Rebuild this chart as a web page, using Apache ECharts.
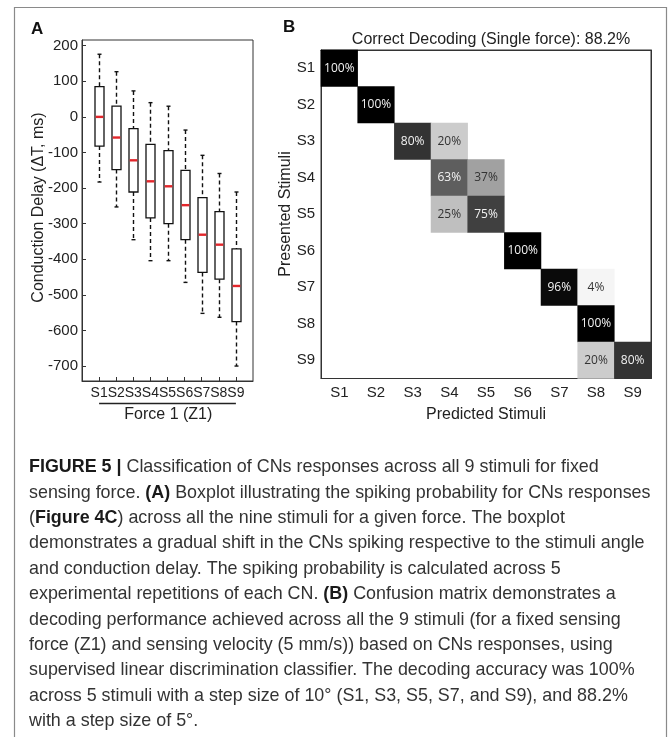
<!DOCTYPE html>
<html><head><meta charset="utf-8">
<script src="https://cdn.jsdelivr.net/npm/echarts@6/dist/echarts.min.js"></script>
<style>html,body{margin:0;padding:0;background:#fff}#c{width:669px;height:737px}</style>
</head><body><div id="c"></div>
<script>
// ---------- Panel A: boxplot data ----------
const stimuli = ['S1','S2','S3','S4','S5','S6','S7','S8','S9'];
const whiskerLow  = [-183,-253,-345,-404,-404,-465,-552,-563,-700];
const quartile1   = [-82,-148,-211,-284,-300,-345,-437,-456,-575];
const medians     = [0,-58,-122,-181,-195,-248,-331,-359,-475];
const quartile3   = [85,30,-33,-77,-95,-150,-227,-266,-371];
const whiskerHigh = [176,127,73,40,30,-37,-108,-159,-211];
const yTicksA     = [200,100,0,-100,-200,-300,-400,-500,-600,-700];

// ---------- Panel B: confusion matrix (rows = presented, cols = predicted) ----------
const presented = stimuli;
const predicted = stimuli;
const confusion = [
  [100,0,0,0,0,0,0,0,0],
  [0,100,0,0,0,0,0,0,0],
  [0,0,80,20,0,0,0,0,0],
  [0,0,0,63,37,0,0,0,0],
  [0,0,0,25,75,0,0,0,0],
  [0,0,0,0,0,100,0,0,0],
  [0,0,0,0,0,0,96,4,0],
  [0,0,0,0,0,0,0,100,0],
  [0,0,0,0,0,0,0,20,80]
];
const accuracy = 88.2;

// ---------- Caption ----------
const captionLines = [
  '{b|FIGURE 5 |} Classification of CNs responses across all 9 stimuli for fixed',
  'sensing force. {b|(A)} Boxplot illustrating the spiking probability for CNs responses',
  '({b|Figure 4C}) across all the nine stimuli for a given force. The boxplot',
  'demonstrates a gradual shift in the CNs spiking respective to the stimuli angle',
  'and conduction delay. The spiking probability is calculated across 5',
  'experimental repetitions of each CN. {b|(B)} Confusion matrix demonstrates a',
  'decoding performance achieved across all the 9 stimuli (for a fixed sensing',
  'force (Z1) and sensing velocity (5 mm/s)) based on CNs responses, using',
  'supervised linear discrimination classifier. The decoding accuracy was 100%',
  'across 5 stimuli with a step size of 10° (S1, S3, S5, S7, and S9), and 88.2%',
  'with a step size of 5°.'
];

const FONT = 'Liberation Sans, Arial, Helvetica, sans-serif';
const INK = '#222';
const CAP = 17.9;

const padCats = [' ', ...stimuli, '  '];
const boxRows = stimuli.map((s, i) => [s, whiskerLow[i], quartile1[i], medians[i], quartile3[i], whiskerHigh[i]]);

const heatData = [];
confusion.forEach((row, r) => row.forEach((v, c) => {
  if (v > 0) heatData.push({
    value: [predicted[c], presented[r], v],
    label: { color: v > 50 ? '#f2f2f2' : '#333' }
  });
}));

const chart = echarts.init(document.getElementById('c'), null, { renderer: 'canvas' });

const captionGraphics = captionLines.map((t, i) => ({
  type: 'text', left: 29, top: 468.3 + 25.4 * i - 10,
  style: {
    text: t, fill: '#333', font: CAP + 'px ' + FONT,
    rich: { b: { fontWeight: 'bold', fontSize: CAP, fontFamily: FONT, fill: '#1a1a1a', color: '#1a1a1a' } }
  }
}));

const option = {
  animation: false,
  backgroundColor: '#fff',
  textStyle: { fontFamily: FONT },
  title: [{
    text: 'Correct Decoding (Single force): ' + accuracy + '%',
    left: 486, top: 27, textAlign: 'center',
    textStyle: { fontSize: 16, fontWeight: 'normal', color: INK, fontFamily: FONT }
  }],
  grid: [
    { left: 82, top: 40, width: 171, height: 341, show: true, borderColor: '#333', borderWidth: 1, backgroundColor: 'transparent' },
    { left: 321, top: 50, width: 330, height: 328.5, show: true, borderColor: '#333', borderWidth: 1, backgroundColor: 'transparent' }
  ],
  xAxis: [
    { type: 'category', gridIndex: 0, data: padCats, boundaryGap: false,
      axisLine: { onZero: false, lineStyle: { color: '#333' } },
      axisTick: { inside: true, length: 4, interval: (i, v) => v.trim() !== '', lineStyle: { color: '#333' } },
      axisLabel: { interval: 0, margin: 5, fontSize: 14, color: INK, fontFamily: FONT },
      splitLine: { show: false } },
    { type: 'category', gridIndex: 1, data: predicted, position: 'bottom',
      axisLine: { lineStyle: { color: '#333' } },
      axisTick: { inside: true, length: 4, alignWithLabel: true, lineStyle: { color: '#333' } },
      axisLabel: { interval: 0, margin: 7, fontSize: 15, color: INK, fontFamily: FONT },
      splitLine: { show: false } },
    { type: 'category', gridIndex: 1, data: predicted, position: 'top',
      axisLine: { lineStyle: { color: '#333' } },
      axisTick: { inside: true, length: 4, alignWithLabel: true, lineStyle: { color: '#333' } },
      axisLabel: { show: false }, splitLine: { show: false } }
  ],
  yAxis: [
    { type: 'value', gridIndex: 0, min: -742, max: 216,
      axisLine: { show: true, lineStyle: { color: '#333' } },
      axisTick: { show: true, inside: true, length: 4, customValues: yTicksA, lineStyle: { color: '#333' } },
      axisLabel: { margin: 4, fontSize: 15, color: INK, fontFamily: FONT, customValues: yTicksA },
      splitLine: { show: false } },
    { type: 'category', gridIndex: 1, data: presented, inverse: true, position: 'left',
      axisLine: { lineStyle: { color: '#333' } },
      axisTick: { inside: true, length: 4, alignWithLabel: true, lineStyle: { color: '#333' } },
      axisLabel: { interval: 0, margin: 6, fontSize: 15, color: INK, fontFamily: FONT },
      splitLine: { show: false } },
    { type: 'category', gridIndex: 1, data: presented, inverse: true, position: 'right',
      axisLine: { lineStyle: { color: '#333' } },
      axisTick: { inside: true, length: 4, alignWithLabel: true, lineStyle: { color: '#333' } },
      axisLabel: { show: false }, splitLine: { show: false } }
  ],
  visualMap: {
    show: false, type: 'continuous', min: 0, max: 100, seriesIndex: 1, dimension: 2,
    inRange: { color: ['#ffffff', '#000000'] }
  },
  series: [
    {
      type: 'custom', xAxisIndex: 0, yAxisIndex: 0,
      data: boxRows, encode: { x: 0, y: [1, 2, 3, 4, 5] },
      renderItem: function (params, api) {
        const x = api.value(0);
        const pMin = api.coord([x, api.value(1)]);
        const pQ1 = api.coord([x, api.value(2)]);
        const pMed = api.coord([x, api.value(3)]);
        const pQ3 = api.coord([x, api.value(4)]);
        const pMax = api.coord([x, api.value(5)]);
        const cx = Math.round(pMed[0]) + 0.5, hw = 4.5, cw = 2;
        const dash = { stroke: '#111', lineWidth: 1.4, lineDash: [4, 3], fill: null };
        const solid = { stroke: '#111', lineWidth: 1.4, fill: null };
        return { type: 'group', children: [
          { type: 'line', shape: { x1: cx, y1: pMax[1], x2: cx, y2: pQ3[1] }, style: dash },
          { type: 'line', shape: { x1: cx, y1: pQ1[1], x2: cx, y2: pMin[1] }, style: dash },
          { type: 'line', shape: { x1: cx - cw, y1: pMax[1], x2: cx + cw, y2: pMax[1] }, style: solid },
          { type: 'line', shape: { x1: cx - cw, y1: pMin[1], x2: cx + cw, y2: pMin[1] }, style: solid },
          { type: 'rect', shape: { x: cx - hw, y: pQ3[1], width: 2 * hw, height: pQ1[1] - pQ3[1] },
            style: { fill: '#fff', stroke: '#111', lineWidth: 1.3 } },
          { type: 'line', shape: { x1: cx - hw + 0.7, y1: pMed[1], x2: cx + hw - 0.7, y2: pMed[1] },
            style: { stroke: '#e3262b', lineWidth: 2.4 } }
        ] };
      }
    },
    {
      type: 'heatmap', xAxisIndex: 1, yAxisIndex: 1,
      data: heatData,
      itemStyle: { borderWidth: 0 },
      label: { show: true, formatter: p => p.value[2] + '%', fontSize: 12, fontFamily: 'Open Sans, sans-serif' },
      emphasis: { disabled: true }
    }
  ],
  graphic: [
    { type: 'rect', shape: { x: 14.5, y: 7.5, width: 652, height: 740 }, style: { fill: null, stroke: '#8a8a8a', lineWidth: 1.2 }, silent: true },
    { type: 'text', left: 31, top: 21, style: { text: 'A', font: 'bold 17px ' + FONT, fill: '#111' } },
    { type: 'text', left: 283, top: 19, style: { text: 'B', font: 'bold 17px ' + FONT, fill: '#111' } },
    { type: 'text', x: 38.5, y: 207.5, rotation: Math.PI / 2,
      style: { text: 'Conduction Delay (\u0394T, ms)', font: '16px ' + FONT, fill: INK, align: 'center', verticalAlign: 'middle' } },
    { type: 'text', x: 286, y: 214, rotation: Math.PI / 2,
      style: { text: 'Presented Stimuli', font: '16px ' + FONT, fill: INK, align: 'center', verticalAlign: 'middle' } },
    { type: 'text', x: 486, y: 415,
      style: { text: 'Predicted Stimuli', font: '16px ' + FONT, fill: INK, align: 'center', verticalAlign: 'middle' } },
    { type: 'text', x: 168.3, y: 415,
      style: { text: 'Force 1 (Z1)', font: '16px ' + FONT, fill: INK, align: 'center', verticalAlign: 'middle' } },
    ...captionGraphics
  ]
};
chart.setOption(option);

// underline below the stimulus labels of panel A, spanning S1..S9 positions
const pS1 = chart.convertToPixel({ xAxisIndex: 0, yAxisIndex: 0 }, [stimuli[0], 0]);
const pS9 = chart.convertToPixel({ xAxisIndex: 0, yAxisIndex: 0 }, [stimuli[stimuli.length - 1], 0]);
chart.setOption({ graphic: [...option.graphic, {
  type: 'line', shape: { x1: pS1[0], y1: 403.5, x2: pS9[0], y2: 403.5 }, style: { stroke: '#222', lineWidth: 1.3 }
}] });
</script></body></html>
